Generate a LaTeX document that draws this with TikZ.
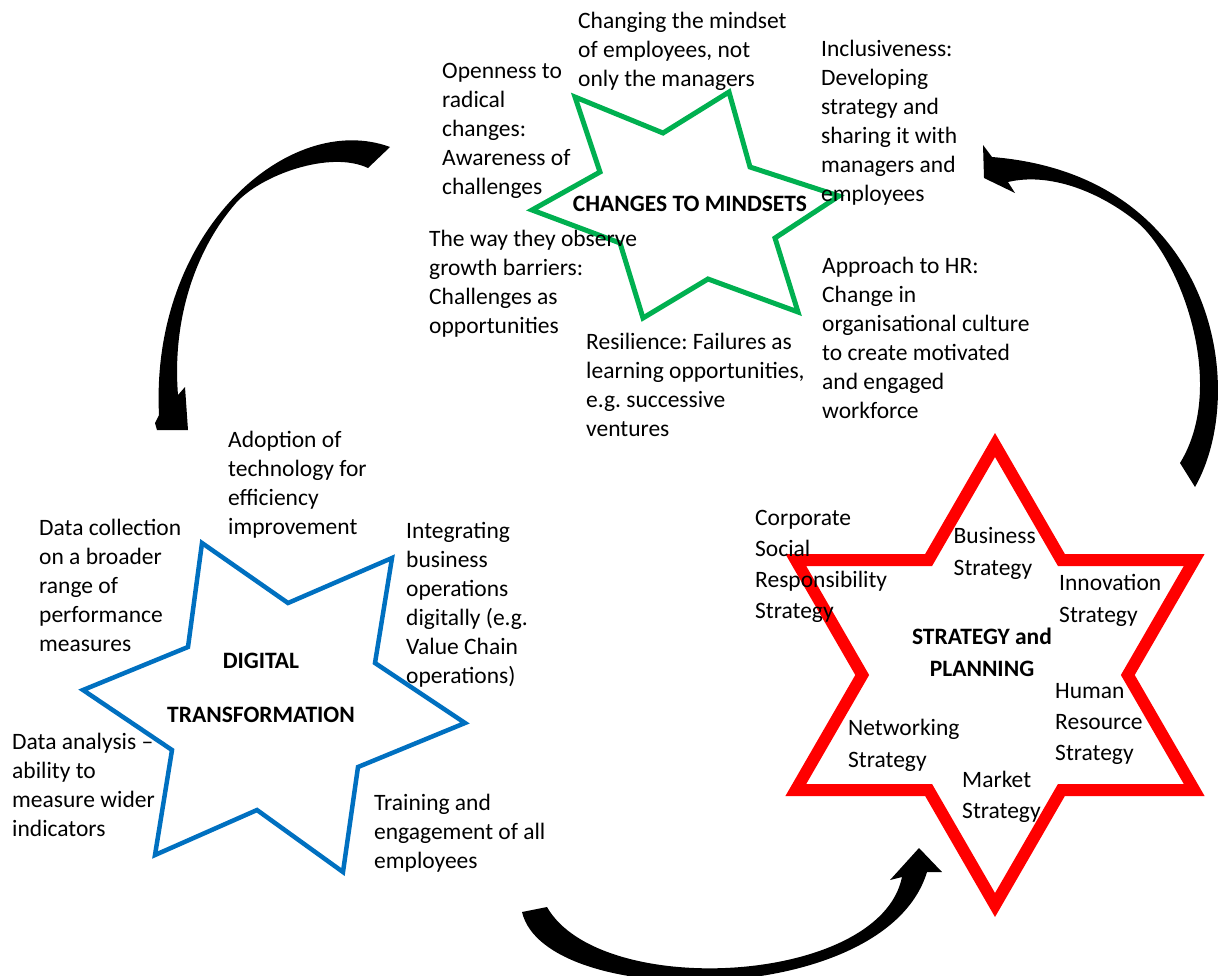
\documentclass[tikz,border=0pt]{standalone}
\usepackage{fontspec}
\setmainfont{Carlito}
\definecolor{mgreen}{RGB}{0,176,80}
\definecolor{mblue}{RGB}{0,112,192}
\definecolor{mred}{RGB}{255,0,0}
\frenchspacing
\begin{document}
\begin{tikzpicture}[x=1pt,y=-1pt,
  txt/.style={anchor=north west, align=left, inner sep=0pt, font=\fontsize{23.5}{29}\selectfont},
  txtr/.style={anchor=north west, align=left, inner sep=0pt, font=\fontsize{23.5}{#1}\selectfont},
  ttl/.style={anchor=base, inner sep=0pt, font=\fontsize{23.5}{29}\selectfont\bfseries},
  starline/.style={line join=miter, miter limit=10},
  bigarrow/.style={fill=black}]
\useasboundingbox (0,0) rectangle (1225,975);

% ---------- stars ----------
\draw[starline, mgreen, line width=5pt]
  (575,97) -- (663,133) -- (729,92) -- (750,167) -- (839,196) -- (775,238)
  -- (798,312) -- (708,279) -- (643,318) -- (620,243) -- (532,210) -- (600,172) -- cycle;

\draw[starline, mblue, line width=4.5pt]
  (202,543) -- (288,603) -- (392,558) -- (375,663) -- (465,723) -- (358,767)
  -- (343,872) -- (257,810) -- (155,855) -- (172,750) -- (83,690) -- (188,647) -- cycle;

\draw[starline, mred, line width=12pt]
  (995,445) -- (1061.4,560) -- (1194.2,560) -- (1127.8,675) -- (1194.2,790) -- (1061.4,790)
  -- (995,905) -- (928.6,790) -- (795.8,790) -- (862.2,675) -- (795.8,560) -- (928.6,560) -- cycle;

% ---------- curved arrows ----------
% top-left arrow (changes to mindsets -> digital transformation)
\fill[bigarrow] (390,147) .. controls (290,110) and (150,230) .. (159,415)
  -- (155,423) -- (157,430) -- (188,430) -- (185,387) -- (178,395)
  .. controls (172,320) and (195,250) .. (236,203)
  .. controls (261,175) and (330,150) .. (368,168) -- cycle;

% right arrow (strategy -> changes to mindsets)
\fill[bigarrow] (1195,487) .. controls (1250,390) and (1215,175) .. (992,157)
  -- (983,145) -- (984,178) -- (1015,193) -- (1008,182)
  .. controls (1050,172) and (1100,192) .. (1137,222)
  .. controls (1180,258) and (1228,385) .. (1180,463) -- cycle;

% bottom arrow (digital transformation -> strategy)
\fill[bigarrow] (522,912) .. controls (545,1010) and (885,1010) .. (927,872)
  -- (942,872) -- (919,848) -- (890,880) -- (902,877)
  .. controls (880,985) and (600,1000) .. (547,907) -- cycle;

% ---------- texts: changes to mindsets ----------
\node[txt] (t1) at (578,8.2) {\strut Changing the mindset\\of employees, not\\only the managers};
\node[txt] (t2) at (442,58.2) {\strut Openness to\\radical\\changes:\\Awareness of\\challenges};
\node[txt] (t3) at (821,36.2) {\strut Inclusiveness:\\Developing\\strategy and\\sharing it with\\managers and\\employees};
\node[txt] (t4) at (429,226.2) {\strut The way they observe\\growth barriers:\\Challenges as\\opportunities};
\node[txt] (t5) at (822,253.2) {\strut Approach to HR:\\Change in\\organisational culture\\to create motivated\\and engaged\\workforce};
\node[txt] (t6) at (586,329.2) {\strut Resilience: Failures as\\learning opportunities,\\e.g. successive\\ventures};
\node[ttl] (c1) at (690,211) {CHANGES TO MINDSETS};

% ---------- texts: digital transformation ----------
\node[txt] (d1) at (228,427.2) {\strut Adoption of\\technology for\\efficiency\\improvement};
\node[txt] (d2) at (39,515.2) {\strut Data collection\\on a broader\\range of\\performance\\measures};
\node[txt] (d3) at (406,518.2) {\strut Integrating\\business\\operations\\digitally (e.g.\\Value Chain\\operations)};
\node[txt] (d4) at (12,729.2) {\strut Data analysis –\\ability to\\measure wider\\indicators};
\node[txt] (d5) at (374,789.7) {\strut Training and\\engagement of all\\employees};
\node[ttl] (c2a) at (261,668) {DIGITAL};
\node[ttl] (c2b) at (261,722) {TRANSFORMATION};

% ---------- texts: strategy and planning ----------
\node[txtr=31] (s1) at (755,503.3) {\strut Corporate\\Social\\Responsibility\\Strategy};
\node[txtr=32.5] (s2) at (953.5,520.25) {\strut Business\\Strategy};
\node[txtr=32] (s3) at (1059,567.6) {\strut Innovation\\Strategy};
\node[txtr=31] (s4) at (1055,676.3) {\strut Human\\Resource\\Strategy};
\node[txtr=32] (s5) at (848,712.6) {\strut Networking\\Strategy};
\node[txtr=31] (s6) at (962,765.3) {\strut Market\\Strategy};
\node[ttl] (c3a) at (982,644) {STRATEGY and};
\node[ttl] (c3b) at (982,676) {PLANNING};
\end{tikzpicture}
\end{document}
